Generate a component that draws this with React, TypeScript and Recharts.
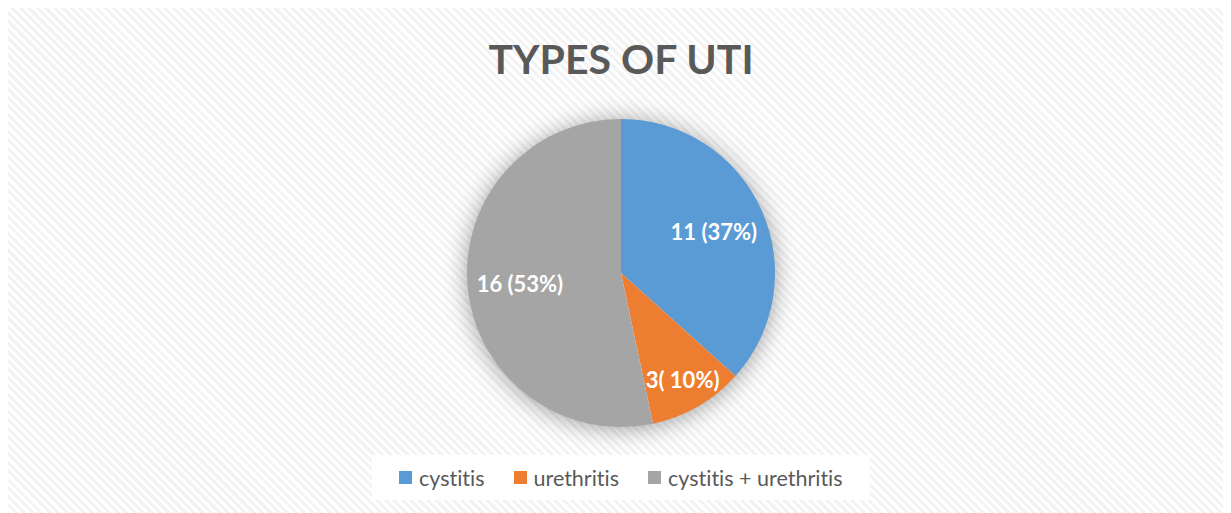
import React from 'react';
import { PieChart, Pie, Cell } from 'recharts';

const categories = ['cystitis', 'urethritis', 'cystitis + urethritis'];
const counts = [11, 3, 16];
const sliceLabels = ['11 (37%)', '3( 10%)', '16 (53%)'];
const colors = ['#5B9BD5', '#ED7D31', '#A5A5A5'];

const data = categories.map((name, i) => ({ name, value: counts[i], label: sliceLabels[i] }));
const total = counts.reduce((a, b) => a + b, 0);

const FONT = 'Lato, "Open Sans", sans-serif';
const RADIAN = Math.PI / 180;

const renderLabel = ({ cx, cy, midAngle, outerRadius, percent, index }: any) => {
  // small slices get pushed further out, like Excel's best-fit
  const r = outerRadius * (percent < 0.15 ? 0.8 : 0.66);
  const x = cx + r * Math.cos(-midAngle * RADIAN);
  const y = cy + r * Math.sin(-midAngle * RADIAN);
  return (
    <text
      x={x}
      y={y}
      fill="#fff"
      textAnchor="middle"
      dominantBaseline="central"
      style={{ fontFamily: FONT, fontWeight: 700, fontSize: 22 }}
    >
      {data[index].label}
    </text>
  );
};

const LegendBox = () => (
  <div
    style={{
      position: 'absolute',
      left: 364,
      top: 447,
      width: 498,
      height: 45,
      background: '#fff',
      display: 'flex',
      alignItems: 'center',
      paddingLeft: 27,
      boxSizing: 'border-box',
      fontFamily: FONT,
      fontSize: 21.5,
      fontVariantLigatures: 'none',
      color: '#595959',
      whiteSpace: 'nowrap',
    }}
  >
    {categories.map((name, i) => (
      <div key={`leg-${i}`} style={{ display: 'flex', alignItems: 'center', marginRight: 29, flexShrink: 0 }}>
        <span style={{ width: 13, height: 13, background: colors[i], marginRight: 7, display: 'inline-block' }} />
        <span>{name}</span>
      </div>
    ))}
  </div>
);

export default function App() {
  return (
    <div
      style={{
        position: 'relative',
        width: 1240,
        height: 520,
        margin: '-2px 0 0 -2px',
        border: '2px solid #d9d9d9',
        background: 'repeating-linear-gradient(45deg, #ffffff 0px, #ffffff 3px, #f3f3f3 3px, #f3f3f3 6px)',
        overflow: 'hidden',
      }}
    >
      <style>{`.pie-shadow .recharts-pie-sector { filter: drop-shadow(0 2px 12px rgba(0,0,0,0.4)); }`}</style>
      <div
        style={{
          position: 'absolute',
          left: 0,
          top: 26,
          width: 1226,
          textAlign: 'center',
          fontFamily: FONT,
          fontWeight: 700,
          fontSize: 41,
          color: '#595959',
        }}
      >
        TYPES OF UTI
      </div>
      <PieChart width={1230} height={505} style={{ position: 'absolute', left: 0, top: 0 }}>
        <Pie
          className="pie-shadow"
          data={[{ name: 'all', value: total }]}
          dataKey="value"
          cx={608}
          cy={260}
          outerRadius={153}
          fill="#ffffff"
          stroke="none"
          legendType="none"
          isAnimationActive={false}
        />
        <Pie
          data={data}
          dataKey="value"
          nameKey="name"
          cx={608}
          cy={260}
          outerRadius={154}
          startAngle={90}
          endAngle={-270}
          stroke="#ffffff"
          strokeWidth={0}
          label={renderLabel}
          labelLine={false}
          isAnimationActive={false}
        >
          {data.map((_entry, index) => (
            <Cell key={`cell-${index}`} fill={colors[index]} />
          ))}
        </Pie>
      </PieChart>
      <LegendBox />
    </div>
  );
}
